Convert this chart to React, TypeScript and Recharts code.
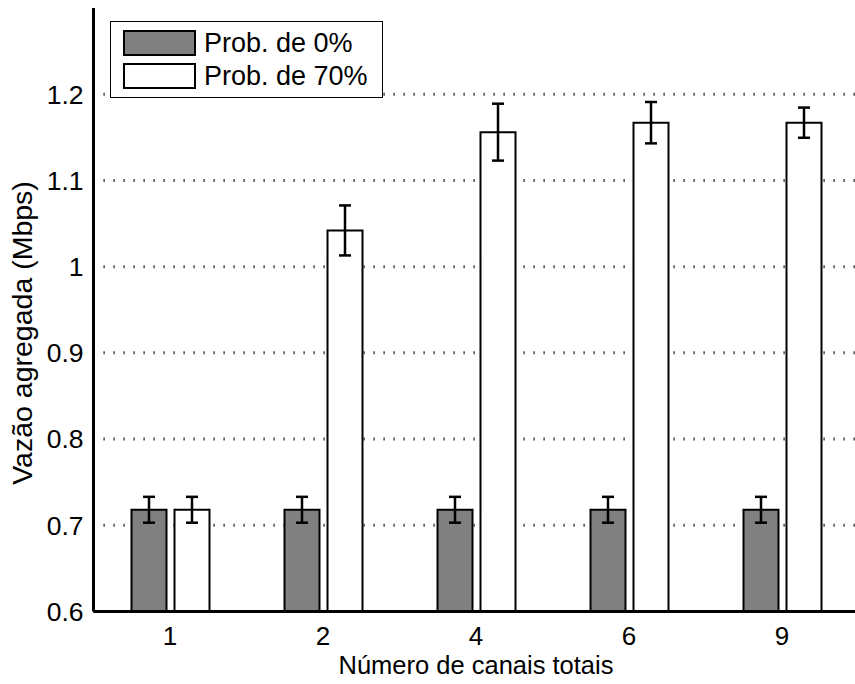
import React from 'react';
import { BarChart, Bar, XAxis, YAxis, CartesianGrid, ErrorBar, Legend, Label } from 'recharts';

const categories = ['1', '2', '4', '6', '9'];
const prob0 = [0.718, 0.718, 0.718, 0.718, 0.718];
const prob0Err = [0.015, 0.015, 0.015, 0.015, 0.015];
const prob70 = [0.718, 1.042, 1.156, 1.167, 1.167];
const prob70Err = [0.015, 0.029, 0.033, 0.024, 0.0175];
const yTicks = [0.6, 0.7, 0.8, 0.9, 1.0, 1.1, 1.2];
const seriesNames = ['Prob. de 0%', 'Prob. de 70%'];

const data = categories.map((c, i) => ({
  cat: c,
  p0: prob0[i],
  p0e: prob0Err[i],
  p70: prob70[i],
  p70e: prob70Err[i],
}));

const FONT = '"Liberation Sans", Arial, Helvetica, sans-serif';

const LegendBox = (props: any) => {
  const payload = props.payload || [];
  return (
    <div
      style={{
        width: 271,
        height: 75,
        border: '1px solid #000',
        background: '#fff',
        position: 'relative',
        fontFamily: FONT,
      }}
    >
      {payload.map((p: any, i: number) => (
        <div key={i} style={{ position: 'absolute', left: 12, top: 8 + i * 33, height: 26, display: 'flex', alignItems: 'center' }}>
          <div
            style={{
              width: 69,
              height: 22,
              background: p.payload?.fill ?? p.color,
              border: '2px solid #000',
            }}
          />
          <span style={{ marginLeft: 8, fontSize: 27, color: '#000', lineHeight: '26px' }}>{p.value}</span>
        </div>
      ))}
    </div>
  );
};

const YLabel = () => (
  <text
    x={22}
    y={333}
    transform="rotate(-90, 22, 333)"
    textAnchor="middle"
    dominantBaseline="central"
    fontSize={28.5}
    fontFamily={FONT}
    fill="#000"
  >
    Vazão agregada (Mbps)
  </text>
);

export default function App() {
  return (
    <div style={{ position: 'absolute', left: 0, top: 0, width: 855, height: 684, overflow: 'hidden', fontFamily: FONT }}>
      <BarChart
        width={855}
        height={684}
        data={data}
        margin={{ top: 8, right: -3.5, bottom: 0, left: 0 }}
        barSize={35}
        barGap={8}
      >
        <CartesianGrid
          horizontal={true}
          vertical={false}
          horizontalValues={yTicks}
          stroke="#222"
          strokeWidth={3}
          strokeDasharray="1.2 8.8"
        />
        <XAxis
          dataKey="cat"
          height={72.5}
          tickSize={0}
          tickMargin={15}
          tickLine={false}
          axisLine={{ stroke: '#000', strokeWidth: 3 }}
          tick={{ fill: '#000', fontSize: 26, fontFamily: FONT }}
        >
          <Label value="Número de canais totais" position="insideBottom" offset={10} fill="#000" fontSize={25.5} fontFamily={FONT} />
        </XAxis>
        <YAxis
          width={93.5}
          domain={[0.6, 1.3]}
          ticks={yTicks}
          allowDataOverflow
          interval={0}
          tickSize={0}
          tickMargin={10}
          tickLine={false}
          axisLine={{ stroke: '#000', strokeWidth: 3 }}
          tick={{ fill: '#000', fontSize: 26.5, fontFamily: FONT }}
        >
          <Label content={<YLabel />} />
        </YAxis>
        <Legend
          layout="horizontal"
          verticalAlign="middle"
          align="center"
          content={<LegendBox />}
          wrapperStyle={{ position: 'absolute', left: 110, top: 21, width: 273, height: 77 }}
        />
        <Bar dataKey="p0" name={seriesNames[0]} fill="#808080" stroke="#000" strokeWidth={2} isAnimationActive={false}>
          <ErrorBar dataKey="p0e" width={6} stroke="#000" strokeWidth={2.5} />
        </Bar>
        <Bar dataKey="p70" name={seriesNames[1]} fill="#ffffff" stroke="#000" strokeWidth={2} isAnimationActive={false}>
          <ErrorBar dataKey="p70e" width={6} stroke="#000" strokeWidth={2.5} />
        </Bar>
      </BarChart>
    </div>
  );
}
